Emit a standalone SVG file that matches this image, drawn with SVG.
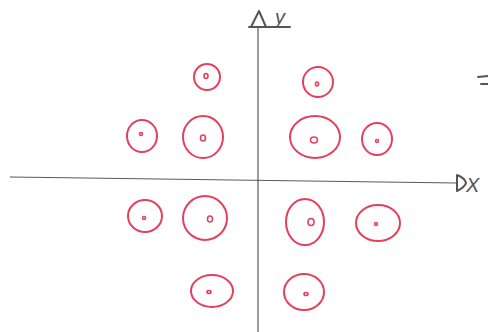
<svg xmlns="http://www.w3.org/2000/svg" width="488" height="332" viewBox="0 0 488 332">
<defs>
<style>
.ring{fill:none;stroke:#e4405c;stroke-width:2;stroke-linecap:round}
.core{fill:none;stroke:#e4405c;stroke-width:1.6}
.axis{fill:none;stroke:#5a5a5a;stroke-width:1.2}
.head{fill:none;stroke:#555;stroke-width:2;stroke-linejoin:round;stroke-linecap:round}
.lbl{font-family:"Liberation Sans",Arial,sans-serif;font-size:20px;fill:#555;font-style:italic}
</style>
</defs>
<rect width="488" height="332" fill="#ffffff"/>
<g id="connectors">
<line class="axis" x1="10" y1="177" x2="456" y2="183"/>
<line class="axis" x1="258" y1="332" x2="258" y2="27"/>
<path class="head" d="M457,175 L457,191 Q465,187 466,183 Q465,178 457,175 Z"/>
<path class="head" d="M251,27 L259,11 L266,27 M249,27 L290,27"/>
</g>
<g id="label-y"><text class="lbl" x="275" y="24">y</text></g>
<g id="label-x"><text class="lbl" x="466" y="192">X</text></g>
<g id="edge-mark"><path class="head" d="M478,77 L488,76 M481,84 L488,84" stroke-width="1.5"/></g>
<g id="n1"><ellipse class="ring" cx="207" cy="77" rx="13" ry="13"/><ellipse class="core" cx="206" cy="76" rx="2" ry="2.5"/></g>
<g id="n2"><ellipse class="ring" cx="142" cy="136" rx="15" ry="16"/><ellipse class="core" cx="141" cy="134" rx="1.5" ry="1.5"/></g>
<g id="n3"><ellipse class="ring" cx="203" cy="137" rx="20" ry="21"/><ellipse class="core" cx="203" cy="138" rx="2.5" ry="3"/></g>
<g id="n4"><ellipse class="ring" cx="318" cy="82" rx="15" ry="15"/><ellipse class="core" cx="317" cy="84" rx="1.5" ry="2"/></g>
<g id="n5"><ellipse class="ring" cx="315" cy="137" rx="25" ry="21"/><ellipse class="core" cx="314" cy="140" rx="3.5" ry="3"/></g>
<g id="n6"><ellipse class="ring" cx="377" cy="139" rx="15" ry="16"/><ellipse class="core" cx="377" cy="141" rx="1.5" ry="1.5"/></g>
<g id="n7"><ellipse class="ring" cx="145" cy="216" rx="17" ry="16"/><ellipse class="core" cx="144" cy="218" rx="1.5" ry="1.5"/></g>
<g id="n8"><ellipse class="ring" cx="205" cy="218" rx="22" ry="22"/><ellipse class="core" cx="210" cy="219" rx="2.5" ry="3"/></g>
<g id="n9"><ellipse class="ring" cx="212" cy="291" rx="21" ry="16"/><ellipse class="core" cx="209" cy="292" rx="2" ry="1.5"/></g>
<g id="n10"><ellipse class="ring" cx="305" cy="222" rx="19" ry="23"/><ellipse class="core" cx="311" cy="222" rx="3" ry="3.5"/></g>
<g id="n11"><ellipse class="ring" cx="378" cy="223" rx="22" ry="18"/><ellipse class="core" cx="376" cy="224" rx="1.5" ry="1.5"/></g>
<g id="n12"><ellipse class="ring" cx="304" cy="292" rx="20" ry="18"/><ellipse class="core" cx="306" cy="294" rx="2" ry="1.5"/></g>
</svg>
